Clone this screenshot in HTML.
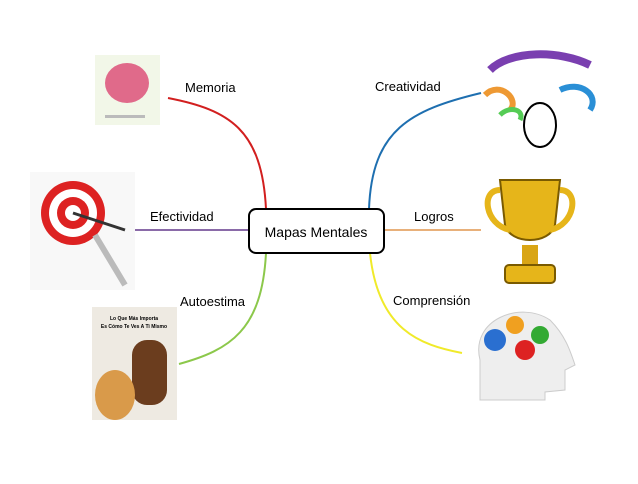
<!DOCTYPE html>
<html><head><style>
body{margin:0;background:#fff;width:638px;height:479px;overflow:hidden;font-family:"Liberation Sans",sans-serif}
</style></head><body>
<svg width="638" height="479" xmlns="http://www.w3.org/2000/svg" font-family="Liberation Sans, sans-serif">
<rect width="638" height="479" fill="#fff"/>
<!-- connectors -->
<path d="M168 98 C230 110 262 130 266 209" stroke="#d21f1f" stroke-width="2" fill="none"/>
<path d="M481 93 C410 110 372 130 369 209" stroke="#1e6fb0" stroke-width="2" fill="none"/>
<path d="M133 230 L248 230" stroke="#8a6aa8" stroke-width="2"/>
<path d="M384 230 L481 230" stroke="#e8b07a" stroke-width="2"/>
<path d="M266 253 C262 330 230 350 179 364" stroke="#8cc84b" stroke-width="2" fill="none"/>
<path d="M370 253 C378 330 420 345 462 353" stroke="#f0ea2a" stroke-width="2" fill="none"/>
<rect x="249" y="209" width="135" height="44" rx="7" fill="#fff" stroke="#000" stroke-width="2"/>
<text x="316" y="237" font-size="14" text-anchor="middle">Mapas  Mentales</text>
<g font-size="13" fill="#000">
<text x="185" y="92">Memoria</text>
<text x="375" y="91">Creatividad</text>
<text x="150" y="221">Efectividad</text>
<text x="414" y="221">Logros</text>
<text x="180" y="306">Autoestima</text>
<text x="393" y="305">Comprensión</text>
</g>
<!-- brain image -->
<rect x="95" y="55" width="65" height="70" fill="#f2f7e8"/>
<ellipse cx="127" cy="83" rx="22" ry="20" fill="#e06a8a"/>
<rect x="105" y="115" width="40" height="3" fill="#bbb"/>
<!-- target -->
<rect x="30" y="172" width="105" height="118" fill="#f8f8f8"/>
<circle cx="73" cy="213" r="32" fill="#d22"/>
<circle cx="73" cy="213" r="24" fill="#fff"/>
<circle cx="73" cy="213" r="16" fill="#d22"/>
<circle cx="73" cy="213" r="8" fill="#fff"/>
<line x1="73" y1="213" x2="125" y2="230" stroke="#333" stroke-width="3"/>
<path d="M95 235 L125 285" stroke="#bbb" stroke-width="6"/>
<!-- cat book -->
<rect x="92" y="307" width="85" height="113" fill="#eeeae2"/>
<rect x="132" y="340" width="35" height="65" rx="15" fill="#6b3d1e"/>
<ellipse cx="115" cy="395" rx="20" ry="25" fill="#d99a4a"/>
<text x="134" y="320" font-size="5" text-anchor="middle" font-weight="bold">Lo Que Más Importa</text>
<text x="134" y="328" font-size="5" text-anchor="middle" font-weight="bold">Es Cómo Te Ves A Ti Mismo</text>
<!-- creativity -->
<path d="M490 70 C510 50 560 50 590 65" stroke="#7a3fb0" stroke-width="8" fill="none"/>
<path d="M485 95 C500 80 520 100 510 110" stroke="#e93" stroke-width="6" fill="none"/>
<path d="M560 90 C580 80 600 95 590 110" stroke="#2a8fd6" stroke-width="6" fill="none"/>
<path d="M500 115 C510 105 525 110 520 120" stroke="#5c5" stroke-width="5" fill="none"/>
<ellipse cx="540" cy="125" rx="16" ry="22" fill="#fff" stroke="#000" stroke-width="2"/>
<!-- trophy -->
<path d="M500 180 L560 180 L555 225 C550 245 510 245 505 225 Z" fill="#e6b51a" stroke="#7a5a00" stroke-width="2"/>
<path d="M500 190 C480 190 485 225 510 230 M560 190 C580 190 575 225 550 230" stroke="#e6b51a" stroke-width="6" fill="none"/>
<rect x="522" y="245" width="16" height="20" fill="#d9a515"/>
<rect x="505" y="265" width="50" height="18" rx="4" fill="#e6b51a" stroke="#7a5a00" stroke-width="2"/>
<!-- head -->
<path d="M480 400 L480 360 C470 320 520 300 550 320 C565 335 570 350 575 365 L565 370 L565 390 L545 392 L545 400 Z" fill="#eee" stroke="#ccc"/>
<circle cx="495" cy="340" r="11" fill="#2a6fd0"/>
<circle cx="515" cy="325" r="9" fill="#f0a020"/>
<circle cx="525" cy="350" r="10" fill="#d22"/>
<circle cx="540" cy="335" r="9" fill="#3a3"/>
</svg>
</body></html>
